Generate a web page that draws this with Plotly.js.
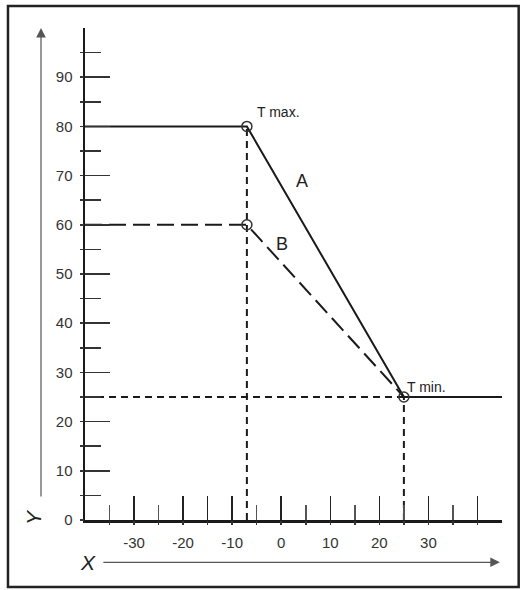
<!DOCTYPE html>
<html>
<head>
<meta charset="utf-8">
<script src="https://cdn.plot.ly/plotly-3.0.1.min.js"></script>
<style>
  html, body { margin: 0; padding: 0; background: #fff; }
  #chart { width: 523px; height: 590px; }
</style>
</head>
<body>
<div id="chart"></div>
<script>
(function () {
  "use strict";

  // curve A (solid) and curve B (dashed) through T max. / T min.
  var curveAX = [-40, -7, 25, 45];
  var curveAY = [80, 80, 25, 25];
  var curveBX = [-40, -7, 25];
  var curveBY = [60, 60, 25];

  // open circles at the break points
  var pointX = [-7, -7, 25];
  var pointY = [80, 60, 25];

  // dotted guide lines down to the axes
  var guideTmaxX = [-7, -7];
  var guideTmaxY = [0, 80];
  var guideTminX = [25, 25];
  var guideTminY = [0, 25];
  var guideHorizX = [-40, 25];
  var guideHorizY = [25, 25];

  // axis ticks
  var xTickVals = [-30, -20, -15, -10, 0, 10, 20, 30, 40];
  var xTickText = ["-30", "-20", "", "-10", "0", "10", "20", "30", ""];
  var xMinorVals = [-35, -25, -5, 5, 15, 25, 35];
  var yTickVals = [0, 10, 20, 30, 40, 50, 60, 70, 80, 90];
  var yTickText = ["0", "10", "20", "30", "40", "50", "60", "70", "80", "90"];
  var yMinorVals = [5, 15, 25, 35, 45, 55, 65, 75, 85, 95];

  var ink = "#1a1a1a";
  var soft = "#555";
  var font = "Liberation Sans, Arial, sans-serif";

  function guide(x, y) {
    return { x: x, y: y, type: "scatter", mode: "lines", hoverinfo: "skip",
      line: { color: ink, width: 2, dash: "7px,5px" } };
  }

  var traces = [
    guide(guideTmaxX, guideTmaxY),
    guide(guideTminX, guideTminY),
    guide(guideHorizX, guideHorizY),
    { x: curveBX, y: curveBY, type: "scatter", mode: "lines", hoverinfo: "skip",
      line: { color: ink, width: 2, dash: "17px,7px" } },
    { x: curveAX, y: curveAY, type: "scatter", mode: "lines", hoverinfo: "skip",
      line: { color: ink, width: 2 } },
    { x: pointX, y: pointY, type: "scatter", mode: "markers", hoverinfo: "skip", cliponaxis: false,
      marker: { symbol: "circle-open", size: 10, color: "#333", line: { width: 1.5, color: "#333" } } },
    // empty trace so the tick-stub overlay axes get drawn
    { x: [], y: [], xaxis: "x2", yaxis: "y2", type: "scatter", mode: "lines", hoverinfo: "skip" }
  ];

  var labelFont = { family: font, size: 14, color: "#222" };
  var arrowBase = { xref: "paper", yref: "paper", axref: "pixel", ayref: "pixel", text: "",
    showarrow: true, arrowhead: 2, arrowsize: 1.6, arrowwidth: 1.2, arrowcolor: soft };

  // short stubs so the ticks cross the axis line, as in the drawing
  function stubAxis(base, vals, over, anchor, side) {
    return { overlaying: over, anchor: anchor, side: side, range: base, showgrid: false, zeroline: false,
      showline: false, showticklabels: false, tickmode: "array", tickvals: vals,
      ticks: "outside", ticklen: 4, tickwidth: 1.5, tickcolor: "#333", fixedrange: true };
  }

  var layout = {
    width: 523, height: 590,
    margin: { l: 85, r: 21, t: 28, b: 70 },
    paper_bgcolor: "#fff", plot_bgcolor: "#fff",
    showlegend: false,
    font: { family: font, size: 15, color: "#333" },
    xaxis: {
      range: [-40, 45], showgrid: false, zeroline: false,
      showline: true, linecolor: ink, linewidth: 2.5,
      tickmode: "array", tickvals: xTickVals, ticktext: xTickText,
      ticks: "inside", ticklen: 24, tickwidth: 1.5, tickcolor: "#222",
      ticklabelstandoff: 7,
      minor: { tickmode: "array", tickvals: xMinorVals, ticks: "inside", ticklen: 15, tickwidth: 1.5, tickcolor: "#555" },
      tickfont: { family: font, size: 15, color: "#333" },
      fixedrange: true
    },
    yaxis: {
      range: [0, 100], showgrid: false, zeroline: false,
      showline: true, linecolor: ink, linewidth: 2.5,
      tickmode: "array", tickvals: yTickVals, ticktext: yTickText,
      ticks: "inside", ticklen: 25, tickwidth: 1.5, tickcolor: "#333",
      ticklabelstandoff: 7,
      minor: { tickmode: "array", tickvals: yMinorVals, ticks: "inside", ticklen: 16, tickwidth: 1.5, tickcolor: "#333" },
      tickfont: { family: font, size: 15, color: "#333" },
      fixedrange: true
    },
    xaxis2: stubAxis([-40, 45], xTickVals.concat(xMinorVals), "x", "y", "bottom"),
    yaxis2: stubAxis([0, 100], yTickVals.concat(yMinorVals), "y", "x", "left"),
    annotations: [
      { x: -5.4, y: 83, xref: "x", yref: "y", text: "T max.", showarrow: false, xanchor: "left", yanchor: "middle", font: labelFont },
      { x: 4.2, y: 69, xref: "x", yref: "y", text: "A", showarrow: false, xanchor: "center", yanchor: "middle", font: { family: font, size: 18, color: "#222" } },
      { x: 0.1, y: 56.2, xref: "x", yref: "y", text: "B", showarrow: false, xanchor: "center", yanchor: "middle", font: { family: font, size: 18, color: "#222" } },
      { x: 25.2, y: 27, xref: "x", yref: "y", text: "T min.", showarrow: false, xanchor: "left", yanchor: "middle", font: labelFont },
      { x: 0.007, y: -0.086, xref: "paper", yref: "paper", text: "<i>X</i>", showarrow: false, xanchor: "center", yanchor: "middle",
        font: { family: font, size: 21, color: "#222" } },
      { x: -0.125, y: 0.006, xref: "paper", yref: "paper", text: "<i>Y</i>", showarrow: false, textangle: -90, xanchor: "center", yanchor: "middle",
        font: { family: font, size: 21, color: "#222" } },
      Object.assign({ x: -0.1055, y: 1.0, ax: 0, ay: 470 }, arrowBase),
      Object.assign({ x: 0.995, y: -0.086, ax: -398, ay: 0 }, arrowBase)
    ],
    shapes: [
      { type: "rect", xref: "paper", yref: "paper", x0: -0.1847, x1: 1.04, y0: -0.1362, y1: 1.0447,
        line: { color: "#222", width: 2.5 }, fillcolor: "rgba(0,0,0,0)", layer: "below" }
    ]
  };

  Plotly.newPlot("chart", traces, layout, { displayModeBar: false, staticPlot: true });
})();
</script>
</body>
</html>
